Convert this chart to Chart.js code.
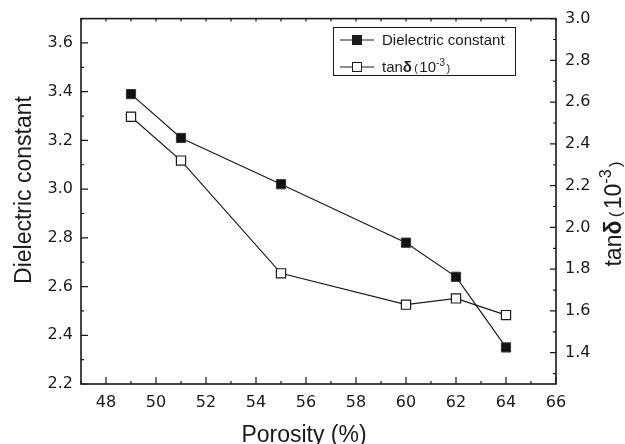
<!DOCTYPE html>
<html>
<head>
<meta charset="utf-8">
<script src="https://cdn.jsdelivr.net/npm/chart.js@4.4.1/dist/chart.umd.min.js"></script>
<style>
  html, body { margin: 0; padding: 0; background: #fff; }
</style>
</head>
<body>
<canvas id="myChart" width="625" height="444"></canvas>
<script>
// data
var porosity = [49, 51, 55, 60, 62, 64];
var dielectric = [3.39, 3.21, 3.02, 2.78, 2.64, 2.35];
var tanDelta = [2.53, 2.32, 1.78, 1.63, 1.66, 1.58];

var xTicks = [48, 50, 52, 54, 56, 58, 60, 62, 64, 66];
var leftTicks = [2.2, 2.4, 2.6, 2.8, 3.0, 3.2, 3.4, 3.6];
var rightTicks = [1.4, 1.6, 1.8, 2.0, 2.2, 2.4, 2.6, 2.8, 3.0];

var seriesNames = ['Dielectric constant', 'tan\u03b4 (10-3)'];

var ink = '#1a1a1a';
var tickFont = { family: '"DejaVu Sans", sans-serif', size: 16 };
var titleFace = '"Liberation Sans", Arial, sans-serif';

// draws a run of text pieces (some bold / superscript) one after the other
function drawRich(ctx, segs, x, y, rot, align) {
  ctx.save();
  ctx.translate(x, y);
  if (rot) ctx.rotate(rot);
  var total = 0;
  segs.forEach(function (s) {
    ctx.font = s.font;
    s.w = ctx.measureText(s.t).width + (s.gap || 0);
    total += s.w;
  });
  var cx = align === 'center' ? -total / 2 : 0;
  ctx.fillStyle = ink;
  ctx.textBaseline = 'alphabetic';
  ctx.textAlign = 'left';
  segs.forEach(function (s) {
    ctx.font = s.font;
    ctx.fillText(s.t, cx + (s.pre || 0), -(s.rise || 0));
    cx += s.w;
  });
  ctx.restore();
}

function tanSegs(size) {
  var f = titleFace;
  return [
    { t: 'tan', font: size + 'px ' + f },
    { t: '\u03b4', font: 'bold ' + size + 'px ' + f, gap: size * 0.15 },
    { t: '(', font: Math.round(size * 0.72) + 'px ' + f, gap: size * 0.1 },
    { t: '10', font: size + 'px ' + f },
    { t: '-3', font: Math.round(size * 0.68) + 'px ' + f, rise: size * 0.42, gap: size * 0.1 },
    { t: ')', font: Math.round(size * 0.72) + 'px ' + f }
  ];
}

var framePlugin = {
  id: 'frame',
  afterDraw: function (chart) {
    var ctx = chart.ctx;
    var a = chart.chartArea;
    var sx = chart.scales.x, sy = chart.scales.y, sy1 = chart.scales.y1;
    ctx.save();
    ctx.strokeStyle = ink;
    ctx.lineWidth = 1.6;
    ctx.strokeRect(a.left, a.top, a.right - a.left, a.bottom - a.top);

    ctx.lineWidth = 1.2;
    ctx.beginPath();
    // bottom: major + minor, top: small ticks at every unit
    xTicks.forEach(function (v) {
      var p = sx.getPixelForValue(v);
      ctx.moveTo(p, a.bottom); ctx.lineTo(p, a.bottom - 7);
      var m = sx.getPixelForValue(v - 1);
      ctx.moveTo(m, a.bottom); ctx.lineTo(m, a.bottom - 3);
      ctx.moveTo(p, a.top); ctx.lineTo(p, a.top + 3);
      ctx.moveTo(m, a.top); ctx.lineTo(m, a.top + 3);
    });
    leftTicks.forEach(function (v) {
      var p = sy.getPixelForValue(v);
      ctx.moveTo(a.left, p); ctx.lineTo(a.left + 7, p);
      var m = sy.getPixelForValue(v + 0.1);
      ctx.moveTo(a.left, m); ctx.lineTo(a.left + 3, m);
    });
    rightTicks.forEach(function (v) {
      var p = sy1.getPixelForValue(v);
      ctx.moveTo(a.right, p); ctx.lineTo(a.right - 6, p);
      var m = sy1.getPixelForValue(v - 0.1);
      ctx.moveTo(a.right, m); ctx.lineTo(a.right - 3, m);
    });
    ctx.stroke();

    // axis titles
    ctx.fillStyle = ink;
    ctx.font = '23px ' + titleFace;
    ctx.textAlign = 'center';
    ctx.textBaseline = 'alphabetic';
    ctx.fillText('Porosity (%)', 304, 442);
    ctx.save();
    ctx.translate(31, 190);
    ctx.rotate(-Math.PI / 2);
    ctx.fillText(seriesNames[0], 0, 0);
    ctx.restore();
    drawRich(ctx, tanSegs(23), 621, 214, -Math.PI / 2, 'center');

    // legend
    var lx = 333, ly = 27, lw = 182, lh = 48;
    ctx.lineWidth = 1;
    ctx.strokeRect(lx + 0.5, ly + 0.5, lw, lh);
    var rows = [40, 67];
    rows.forEach(function (ry, i) {
      ctx.strokeStyle = ink;
      ctx.lineWidth = 1.2;
      ctx.beginPath();
      ctx.moveTo(340, ry); ctx.lineTo(374, ry);
      ctx.stroke();
      ctx.fillStyle = i === 0 ? ink : '#fff';
      ctx.fillRect(352.5, ry - 4.5, 9, 9);
      ctx.lineWidth = 1;
      ctx.strokeRect(352.5, ry - 4.5, 9, 9);
    });
    ctx.fillStyle = ink;
    ctx.textAlign = 'left';
    ctx.font = '15px ' + titleFace;
    ctx.fillText(seriesNames[0], 382, rows[0] + 5);
    drawRich(ctx, tanSegs(15), 382, rows[1] + 5, 0, 'left');
    ctx.restore();
  }
};

function pts(ys) {
  return porosity.map(function (x, i) { return { x: x, y: ys[i] }; });
}

function fixTicks(list) {
  return function (scale) {
    scale.ticks = list.map(function (v) { return { value: v }; });
  };
}

var ctx = document.getElementById('myChart').getContext('2d');
var chart = new Chart(ctx, {
  type: 'line',
  data: {
    datasets: [{
      label: seriesNames[0],
      data: pts(dielectric),
      yAxisID: 'y',
      borderColor: ink,
      backgroundColor: ink,
      borderWidth: 1.2,
      pointStyle: 'rect',
      pointRadius: 6.5,
      pointBorderWidth: 1,
      pointBackgroundColor: '#111',
      pointBorderColor: '#333'
    }, {
      label: seriesNames[1],
      data: pts(tanDelta),
      yAxisID: 'y1',
      borderColor: ink,
      backgroundColor: '#fff',
      borderWidth: 1.2,
      pointStyle: 'rect',
      pointRadius: 6.5,
      pointBorderWidth: 1.2,
      pointBackgroundColor: '#fff',
      pointBorderColor: ink
    }]
  },
  options: {
    responsive: false,
    animation: false,
    layout: { padding: { top: 18, left: 0, right: 0, bottom: 0 } },
    plugins: { legend: { display: false }, tooltip: { enabled: false } },
    scales: {
      x: {
        type: 'linear', min: 47, max: 66,
        afterBuildTicks: fixTicks(xTicks),
        afterFit: function (s) { s.height = 60; },
        grid: { display: false, drawTicks: false },
        border: { display: false },
        ticks: { padding: 9, color: ink, font: tickFont, callback: function (v) { return v; } }
      },
      y: {
        position: 'left', min: 2.2, max: 3.7,
        afterBuildTicks: fixTicks(leftTicks),
        afterFit: function (s) { s.width = 81; },
        grid: { display: false, drawTicks: false },
        border: { display: false },
        ticks: { padding: 8, color: ink, font: tickFont, callback: function (v) { return v.toFixed(1); } }
      },
      y1: {
        position: 'right', min: 1.25, max: 3.0,
        afterBuildTicks: fixTicks(rightTicks),
        afterFit: function (s) { s.width = 69; },
        grid: { display: false, drawTicks: false },
        border: { display: false },
        ticks: { padding: 9, color: ink, font: tickFont, callback: function (v) { return v.toFixed(1); } }
      }
    }
  },
  plugins: [framePlugin]
});
</script>
</body>
</html>
